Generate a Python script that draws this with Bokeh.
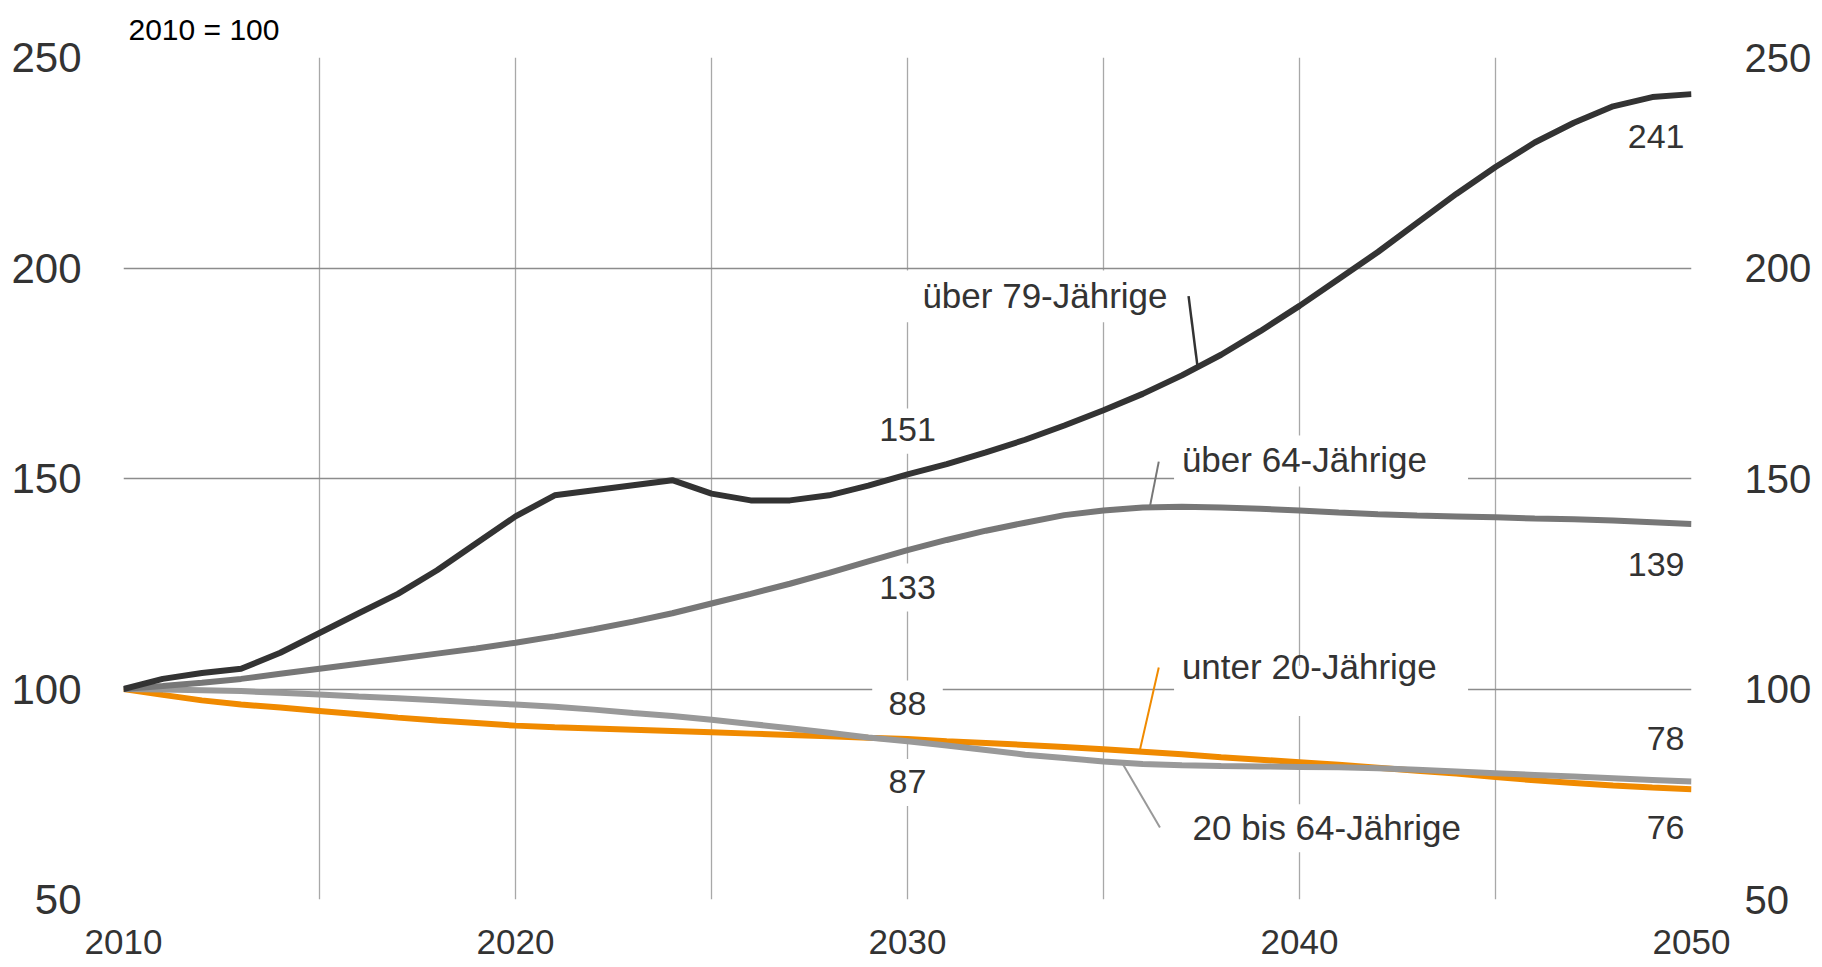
from bokeh.plotting import figure
from bokeh.models import Range1d, LinearAxis, FixedTicker
from bokeh.embed import file_html
from bokeh.resources import INLINE
from bokeh.core.properties import value
import numpy as np

# ---------------- data (2010 = 100) ----------------
years = list(range(2010, 2051))

ueber79 = [100, 102.4, 103.8, 104.8, 108.6, 113.3, 118.0, 122.6, 128.2, 134.6,
           141.0, 146.0, 147.2, 148.4, 149.6, 146.4, 144.8, 144.8, 146.0, 148.3,
           151.0, 153.4, 156.2, 159.2, 162.6, 166.2, 170.1, 174.5, 179.4, 185.0,
           191.0, 197.4, 203.8, 210.7, 217.6, 224.0, 229.8, 234.5, 238.4, 240.6,
           241.3]

ueber64 = [100, 100.7, 101.5, 102.4, 103.6, 104.8, 106.0, 107.2, 108.4, 109.6,
           111.0, 112.5, 114.2, 116.0, 118.0, 120.3, 122.6, 125.0, 127.6, 130.3,
           133.0, 135.4, 137.6, 139.5, 141.3, 142.4, 143.1, 143.3, 143.1, 142.8,
           142.4, 141.9, 141.5, 141.2, 141.0, 140.8, 140.5, 140.3, 140.0, 139.6,
           139.2]

mitte20_64 = [100, 99.9, 99.7, 99.5, 99.1, 98.7, 98.2, 97.8, 97.3, 96.8,
              96.3, 95.8, 95.1, 94.3, 93.6, 92.7, 91.7, 90.7, 89.6, 88.5,
              87.6, 86.6, 85.5, 84.4, 83.6, 82.8, 82.2, 81.9, 81.7, 81.6,
              81.5, 81.4, 81.2, 80.8, 80.4, 80.0, 79.6, 79.2, 78.8, 78.4,
              78.0]

unter20 = [100, 98.6, 97.3, 96.3, 95.6, 94.8, 94.0, 93.2, 92.5, 91.9,
           91.3, 90.9, 90.6, 90.3, 90.0, 89.7, 89.4, 89.1, 88.8, 88.4,
           88.1, 87.6, 87.2, 86.7, 86.2, 85.7, 85.1, 84.5, 83.8, 83.2,
           82.6, 82.0, 81.3, 80.6, 79.9, 79.1, 78.3, 77.7, 77.1, 76.6,
           76.2]

x_tick_labels = [2010, 2020, 2030, 2040, 2050]
y_tick_labels = [50, 100, 150, 200, 250]
x_grid = list(range(2010, 2051, 5))

series_names = ["über 79-Jährige", "über 64-Jährige", "unter 20-Jährige", "20 bis 64-Jährige"]
value_2030 = ["151", "133", "88", "87"]
value_2050 = ["241", "139", "78", "76"]

# ---------------- styling ----------------
FONT = "Liberation Sans"
C79 = "#333333"
C64 = "#777777"
CMID = "#999999"
CU20 = "#f08a00"
TXT = "#333333"

W, H = 1814, 959
p = figure(width=W, height=H,
           x_range=Range1d(2010, 2050), y_range=Range1d(50, 250),
           output_backend="svg", toolbar_location=None,
           min_border_left=123, min_border_right=119,
           min_border_top=57, min_border_bottom=60)
p.outline_line_color = None
p.background_fill_color = "white"
p.border_fill_color = "white"

# title "2010 = 100"
p.title.text = "2010 = 100"
p.title.align = "left"
p.title.vertical_align = "top"
p.title.text_font = FONT
p.title.text_font_size = "30px"
p.title.text_font_style = "normal"
p.title.text_color = "black"
p.title.offset = 5
p.title.standoff = 20

# axes
def style_axis(ax, size, standoff):
    ax.axis_line_color = None
    ax.major_tick_line_color = None
    ax.minor_tick_line_color = None
    ax.major_tick_in = 0
    ax.major_tick_out = 0
    ax.major_label_text_font = FONT
    ax.major_label_text_font_size = size
    ax.major_label_text_color = TXT
    ax.major_label_standoff = standoff

p.xaxis.ticker = FixedTicker(ticks=x_tick_labels)
style_axis(p.xaxis[0], "35px", 30)
p.yaxis.ticker = FixedTicker(ticks=y_tick_labels)
style_axis(p.yaxis[0], "42px", 42)

right_axis = LinearAxis(ticker=FixedTicker(ticks=y_tick_labels))
style_axis(right_axis, "40px", 53)
p.add_layout(right_axis, "right")

# grid
p.xgrid.ticker = FixedTicker(ticks=x_grid)
p.xgrid.grid_line_color = "#a8a8a8"
p.xgrid.grid_line_width = 1.3
p.ygrid.ticker = FixedTicker(ticks=y_tick_labels)
p.ygrid.grid_line_color = "#8c8c8c"
p.ygrid.grid_line_width = 1.3

# white label boxes (cover gridlines behind the labels)
box_l = [2029.75, 2029.05, 2028.7, 2029.1, 2029.1, 2036.8, 2036.8, 2037.0]
box_r = [2037.0, 2030.95, 2031.15, 2030.9, 2030.9, 2044.3, 2044.3, 2044.6]
box_b = [187.1, 155.9, 118.4, 87.0, 72.2, 148.1, 93.6, 61.2]
box_t = [199.4, 166.6, 129.8, 102.0, 83.4, 160.2, 105.5, 72.6]
p.quad(left=box_l, right=box_r, bottom=box_b, top=box_t,
       fill_color="white", line_color=None)

# series lines
p.line(years, unter20, line_color=CU20, line_width=6)
p.line(years, mitte20_64, line_color=CMID, line_width=6)
p.line(years, ueber64, line_color=C64, line_width=6)
p.line(years, ueber79, line_color=C79, line_width=6)

# leader lines (lower end anchored on the series)
def leader(x0, y0, x1, series, color, w):
    y1 = float(np.interp(x1, years, series))
    p.segment(x0=[x0], y0=[y0], x1=[x1], y1=[y1], line_color=color, line_width=w)

leader(2037.17, 193.3, 2037.4, ueber79, C79, 2.5)
leader(2036.41, 154.0, 2036.18, ueber64, C64, 2)
leader(2036.41, 105.1, 2035.92, unter20, CU20, 2)
leader(2036.44, 67.1, 2035.47, mitte20_64, CMID, 2)

# series name labels
p.text(x=[2030.38, 2037.0, 2037.0, 2037.27],
       y=[193.5, 154.5, 105.3, 67.0],
       text=series_names,
       text_font=value(FONT), text_font_size="35px", text_color=TXT,
       text_align="left", text_baseline="alphabetic")

# 2030 values
p.text(x=[2030.0] * 4, y=[161.6, 124.0, 96.6, 78.1], text=value_2030,
       text_font=value(FONT), text_font_size="34px", text_color=TXT,
       text_align="center", text_baseline="alphabetic")

# 2050 values
p.text(x=[2049.82] * 4, y=[231.3, 129.6, 88.2, 67.0], text=value_2050,
       text_font=value(FONT), text_font_size="34px", text_color=TXT,
       text_align="right", text_baseline="alphabetic")

open("out.html", "w").write(file_html(p, INLINE))
